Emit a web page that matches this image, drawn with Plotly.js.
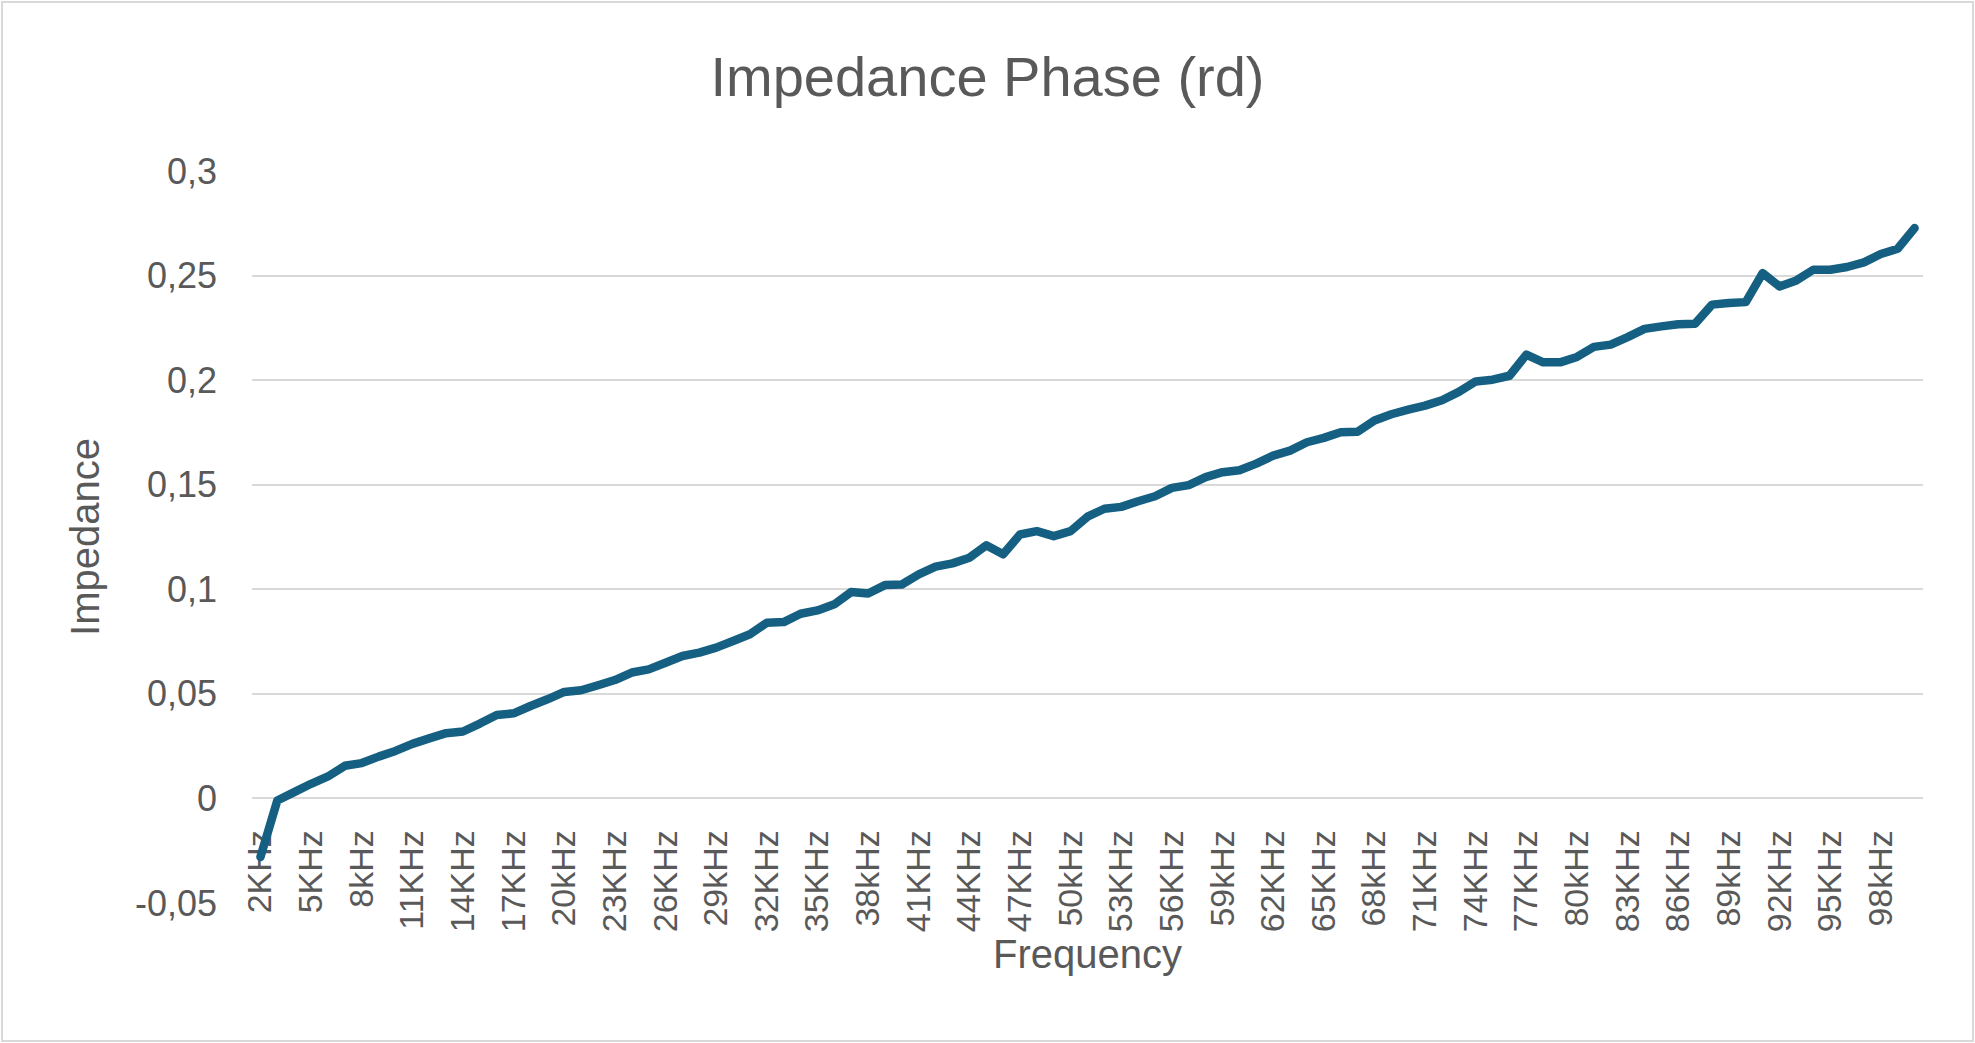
<!DOCTYPE html>
<html>
<head>
<meta charset="utf-8">
<script src="https://cdn.plot.ly/plotly-3.0.1.min.js"></script>
<style>
  body { margin: 0; background: #fff; }
  #wrap { position: relative; width: 1975px; height: 1043px; }
  #chart { width: 1975px; height: 1043px; }
  #frame { position: absolute; left: 1px; top: 1px; right: 1px; bottom: 1px;
           border: 2px solid #d9d9d9; pointer-events: none; z-index: 10; }
  #chart path.js-line { stroke-linejoin: round; stroke-linecap: round; }
</style>
</head>
<body>
<div id="wrap">
  <div id="chart"></div>
  <div id="frame"></div>
</div>
<script>
const FONT = "Liberation Sans, Arial, sans-serif";
const GREY = "#595959";
const LINE_CLR = "#156082";

// frequency categories as labelled in the sheet
const categories = [
  "2KHz", "3KHz", "4KHz", "5KHz", "6KHz", "7KHz", "8kHz", "9KHz", "10kHz", "11KHz",
  "12KHz", "13KHz", "14KHz", "15KHz", "16KHz", "17KHz", "18KHz", "19KHz", "20kHz", "21KHz",
  "22KHz", "23KHz", "24KHz", "25KHz", "26KHz", "27KHz", "28KHz", "29kHz", "30kHz", "31KHz",
  "32KHz", "33KHz", "34KHz", "35KHz", "36KHz", "37KHz", "38kHz", "39KHz", "40kHz", "41KHz",
  "42KHz", "43KHz", "44KHz", "45KHz", "46KHz", "47KHz", "48KHz", "49KHz", "50kHz", "51KHz",
  "52KHz", "53KHz", "54KHz", "55KHz", "56KHz", "57KHz", "58KHz", "59kHz", "60kHz", "61KHz",
  "62KHz", "63KHz", "64KHz", "65KHz", "66KHz", "67KHz", "68kHz", "69KHz", "70kHz", "71KHz",
  "72KHz", "73KHz", "74KHz", "75KHz", "76KHz", "77KHz", "78KHz", "79KHz", "80kHz", "81KHz",
  "82KHz", "83KHz", "84KHz", "85KHz", "86KHz", "87KHz", "88KHz", "89kHz", "90kHz", "91KHz",
  "92KHz", "93KHz", "94KHz", "95KHz", "96KHz", "97KHz", "98kHz", "99KHz", "100kHz"
];

// impedance phase (rd)
const phase = [
  -0.028, -0.001, 0.003, 0.007, 0.0105, 0.0156, 0.0169, 0.020, 0.0227, 0.0261,
  0.0287, 0.0312, 0.0320, 0.0358, 0.0399, 0.0407, 0.0442, 0.0474, 0.0509, 0.0517,
  0.0541, 0.0566, 0.0602, 0.0617, 0.0649, 0.0681, 0.0697, 0.0721, 0.0753, 0.0785,
  0.0840, 0.0843, 0.0883, 0.0899, 0.0928, 0.0987, 0.0980, 0.1020, 0.1023, 0.1071,
  0.1108, 0.1124, 0.1151, 0.1210, 0.1167, 0.1262, 0.1278, 0.1254, 0.1278, 0.1347,
  0.1385, 0.1394, 0.1421, 0.1445, 0.1485, 0.1498, 0.1536, 0.1560, 0.1569, 0.1601,
  0.1639, 0.1663, 0.1703, 0.1724, 0.1751, 0.1753, 0.1807, 0.1837, 0.1859, 0.1878,
  0.1904, 0.1944, 0.1994, 0.2002, 0.2021, 0.2122, 0.2085, 0.2085, 0.2111, 0.2159,
  0.2170, 0.2206, 0.2245, 0.2257, 0.2267, 0.2270, 0.2361, 0.2369, 0.2373, 0.2512,
  0.2448, 0.2477, 0.2528, 0.2528, 0.2541, 0.2563, 0.2603, 0.2628, 0.2727
];

// y ticks use comma decimals like the original sheet
const yTickVals = [-0.05, 0, 0.05, 0.1, 0.15, 0.2, 0.25, 0.3];
const yTickText = ["-0,05", "0", "0,05", "0,1", "0,15", "0,2", "0,25", "0,3"];

// only every third category gets a label
const xTickVals = categories.filter((c, i) => i % 3 === 0);

const yRange = [-0.05, 0.3];
const zeroPos = (0 - yRange[0]) / (yRange[1] - yRange[0]); // x axis crosses at y=0

const trace = {
  x: categories,
  y: phase,
  type: "scatter",
  mode: "lines",
  line: {color: LINE_CLR, width: 8.5, shape: "linear", simplify: false},
  hoverinfo: "x+y"
};

const layout = {
  width: 1975,
  height: 1043,
  margin: {l: 252, r: 52, t: 171, b: 140},
  paper_bgcolor: "#ffffff",
  plot_bgcolor: "#ffffff",
  showlegend: false,
  font: {family: FONT, color: GREY},
  title: {
    text: "Impedance Phase (rd)",
    font: {size: 56, family: FONT, color: GREY},
    xref: "container", x: 0.5, xanchor: "center",
    yref: "container", y: 1 - 76 / 1043, yanchor: "middle"
  },
  xaxis: {
    type: "category",
    range: [-0.5, categories.length - 0.5],
    anchor: "free",
    position: zeroPos,
    layer: "below traces",
    tickvals: xTickVals,
    ticktext: xTickVals,
    tickangle: -90,
    ticks: "",
    ticklabelstandoff: 24,
    tickfont: {size: 34, family: FONT, color: GREY},
    showgrid: false,
    showline: false,
    zeroline: false,
    title: {text: "Frequency", font: {size: 40, family: FONT, color: GREY}, standoff: 4}
  },
  yaxis: {
    range: yRange,
    tickvals: yTickVals,
    ticktext: yTickText,
    ticks: "",
    ticklabelstandoff: 34,
    tickfont: {size: 36, family: FONT, color: GREY},
    showgrid: true,
    gridcolor: "#d9d9d9",
    gridwidth: 2,
    zeroline: false,
    showline: false,
    title: {text: "Impedance", font: {size: 40, family: FONT, color: GREY}, standoff: 22}
  }
};

Plotly.newPlot("chart", [trace], layout, {displayModeBar: false, staticPlot: true});
</script>
</body>
</html>
